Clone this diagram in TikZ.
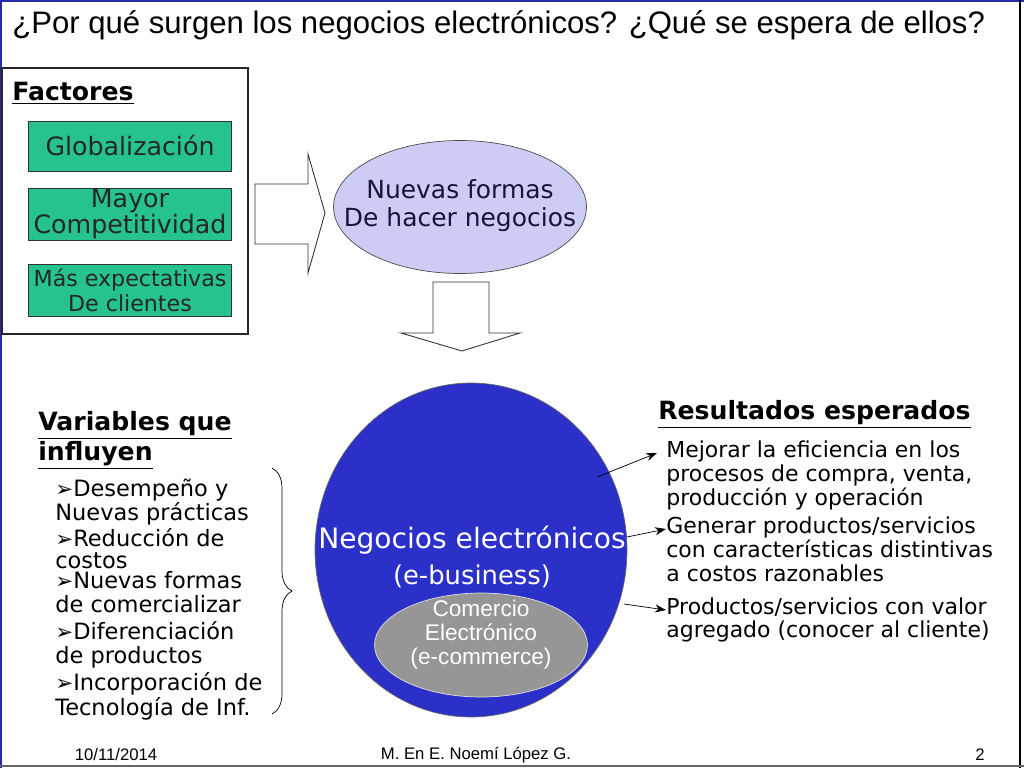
\documentclass[tikz,border=0pt]{standalone}
\usepackage{fontspec}
\setmainfont{DejaVu Sans}
\newfontfamily\tahoma{Liberation Sans}
\usetikzlibrary{shapes.geometric,decorations.pathreplacing,arrows.meta}
\definecolor{factgreen}{RGB}{38,196,140}
\definecolor{ebizblue}{RGB}{42,48,200}
\definecolor{lavender}{RGB}{204,204,245}
\definecolor{frameblue}{RGB}{40,40,170}
\definecolor{navytext}{RGB}{20,20,60}
\newcommand{\mygraybox}{black!41}
\newcommand{\itembul}{\scalebox{0.95}{➢}}

\begin{document}
\begin{tikzpicture}[x=0.02cm,y=-0.02cm,
  factbox/.style={draw=black!80, fill=factgreen, minimum width=4.06cm, align=center, inner sep=0pt, text=black!85},
  headtext/.style={anchor=west, inner sep=0pt, font=\fontsize{14.3}{16}\bfseries},
  linetext/.style={anchor=west, inner sep=0pt, text height=0.75em, text depth=0.2em, font=\fontsize{12.5}{14}\selectfont},
  blockarrow/.style={draw=black!80, fill=white, line width=0.5pt},
  resarrow/.style={-{Stealth[length=2.2mm,width=1.6mm]}, thin}]
\useasboundingbox (0,0) rectangle (1024,768);
\fill[white] (0,0) rectangle (1024,768);
% frame
\draw[frameblue, line width=1.2pt] (1,768) -- (1,1) -- (1024,1);
\draw[black, line width=1.5pt] (1020,0) -- (1020,768);
\draw[black!60, line width=1pt] (0,766) -- (1024,766);
% title
\node[anchor=west, inner sep=0pt, font=\tahoma\fontsize{17.7}{20}\selectfont] (title) at (12,25)
  {¿Por qué surgen los negocios electrónicos? ¿Qué se espera de ellos?};
% factores
\draw[black!85, fill=white, line width=0.6pt] (2,68) rectangle (248,334);
\node[headtext] (fact) at (12,93) {\underline{Factores}};
\node[factbox, minimum height=1cm, font=\fontsize{14.4}{15}\selectfont] (glob) at (130,146) {Globalización};
\node[factbox, minimum height=1.04cm, font=\fontsize{14.4}{15}\selectfont] (comp) at (130,214) {Mayor\\Competitividad};
\node[factbox, minimum height=1.04cm, font=\fontsize{12.6}{14}\selectfont] (expe) at (130,290) {Más expectativas\\De clientes};
% arrow to the right
\draw[blockarrow] (255,184) -- (308,184) -- (308,154) -- (325,213) -- (308,273) -- (308,244) -- (255,244) -- cycle;
\node[ellipse, draw=black!70, fill=lavender, minimum width=5.06cm, minimum height=2.66cm, inner sep=0pt] (nuev) at (460,207) {};
\node[inner sep=0pt, align=center, text=navytext, font=\fontsize{14.2}{16}\selectfont] (nuevt) at (460,206) {Nuevas formas\\De hacer negocios};
% arrow down
\draw[blockarrow] (433,282) -- (489,282) -- (489,333) -- (520,333) -- (462,351) -- (401,333) -- (433,333) -- cycle;
% negocios electronicos
\node[ellipse, draw=black!60, fill=ebizblue, minimum width=6.24cm, minimum height=6.68cm, inner sep=0pt] (ebiz) at (471,550) {};
\node[inner sep=0pt, text=white, font=\fontsize{16}{17}\selectfont] (ebizt) at (472,540) {Negocios electrónicos};
\node[inner sep=0pt, text=white, font=\fontsize{14.7}{16}\selectfont] (ebizs) at (472,576) {(e-business)};
\node[ellipse, draw=white!75!gray, fill=\mygraybox, minimum width=4.26cm, minimum height=2.08cm, inner sep=0pt] (ecom) at (481,645) {};
\node[inner sep=0pt, align=center, text=white, font=\tahoma\fontsize{12.9}{13.7}\selectfont] (ecomt) at (481,635) {Comercio\\Electrónico\\(e-commerce)};
% variables que influyen
\node[headtext] (vari) at (38,425) {\underline{Variables que}};
\node[headtext] (infl) at (38,455) {\underline{influyen}};
\foreach \txt/\yy [count=\i] in {\itembul Desempeño y/492, Nuevas prácticas/516, \itembul Reducción de/542,
  costos/564, \itembul Nuevas formas/584, de comercializar/608, \itembul Diferenciación/635,
  de productos/659, \itembul Incorporación de/686, Tecnología de Inf./711}
  \node[linetext, font=\fontsize{12.8}{14}\selectfont] (vl\i) at (55,\yy) {\txt};
\draw[thin, decorate, decoration={brace, amplitude=0.4cm}] (272,468) -- (272,714);
% resultados esperados
\node[headtext] (resu) at (658,414) {\underline{Resultados esperados}};
\foreach \txt/\yy [count=\i] in {Mejorar la eficiencia en los/453, {procesos de compra, venta,}/477,
  producción y operación/501, {Generar productos/servicios}/529, con características distintivas/553,
  a costos razonables/577, {Productos/servicios con valor}/610, agregado (conocer al cliente)/633}
  \node[linetext] (rl\i) at (666,\yy) {\txt};
\coordinate (s1) at (597,477);
\coordinate (s2) at (627,537);
\coordinate (s3) at (624,604);
\draw[resarrow] (s1) -- ([xshift=-0.18cm]rl1.west);
\draw[resarrow] (s2) -- (rl4.west);
\draw[resarrow] (s3) -- (rl7.west);
% footer
\node[inner sep=0pt, font=\tahoma\fontsize{9.5}{11}\selectfont] (date) at (116,755) {10/11/2014};
\node[inner sep=0pt, font=\tahoma\fontsize{9.5}{11}\selectfont] (auth) at (476,755) {M. En E. Noemí López G.};
\node[inner sep=0pt, font=\tahoma\fontsize{9.5}{11}\selectfont] (page) at (980,755) {2};
\end{tikzpicture}
\end{document}
